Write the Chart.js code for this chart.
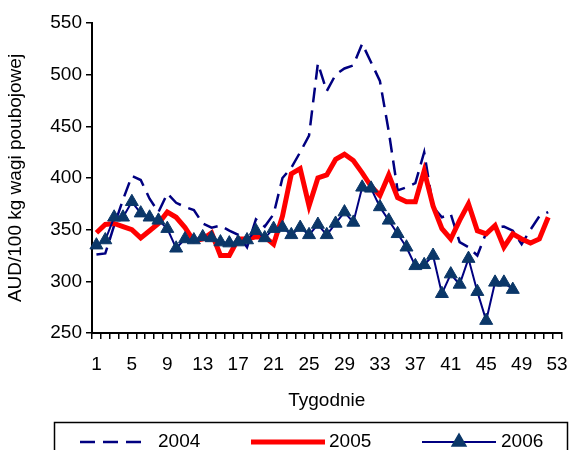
<!DOCTYPE html>
<html>
<head>
<meta charset="utf-8">
<script src="https://cdn.jsdelivr.net/npm/chart.js@4"></script>
<style>
  body { margin: 0; background: #fff; }
</style>
</head>
<body>
<canvas id="myChart" width="570" height="450"></canvas>
<script>
const weeks = ["1", "2", "3", "4", "5", "6", "7", "8", "9", "10", "11", "12", "13", "14", "15", "16", "17", "18",
  "19", "20", "21", "22", "23", "24", "25", "26", "27", "28", "29", "30", "31", "32", "33", "34", "35", "36",
  "37", "38", "39", "40", "41", "42", "43", "44", "45", "46", "47", "48", "49", "50", "51", "52", "53"];
const shownWeeks = ["1", "5", "9", "13", "17", "21", "25", "29", "33", "37", "41", "45", "49", "53"];

const years = ["2004", "2005", "2006"];

const prices2004 = [326, 327, 354, 379, 402, 398, 380, 367, 385, 376, 372, 369, 356, 352, 354, 349, 345, 333,
  360, 353, 365, 400, 410, 425, 441, 511, 484, 500, 506, 509, 530, 512, 494, 445, 388, 391, 395, 425, 372,
  362, 365, 338, 333, 325, 347, 352, 353, 349, 336, 350, 363, 367];
const prices2005 = [347, 355, 356, 353, 350, 342, 349, 356, 367, 362, 352, 339, 341, 347, 325, 325, 341, 341,
  343, 343, 336, 363, 404, 409, 373, 400, 403, 418, 423, 417, 405, 392, 383, 403, 381, 377, 377, 407, 373,
  351, 341, 359, 375, 349, 346, 354, 333, 346, 341, 337, 341, 362];
const prices2006 = [335, 340, 362, 362, 377, 366, 362, 359, 351, 332, 341, 340, 343, 342, 338, 337, 338, 340,
  349, 342, 351, 352, 345, 352, 345, 355, 345, 356, 367, 357, 391, 390, 372, 359, 346, 333, 315, 316, 325,
  288, 307, 297, 322, 290, 262, 299, 299, 292];

const yTicks = { min: 250, max: 550, step: 50 };

const font = { family: "'Liberation Sans', Arial, sans-serif", size: 19 };

// legend frame under the axis title, line sample + year for each series
const legendBox = {
  id: "legendBox",
  afterDraw(chart) {
    const ctx = chart.ctx;
    const slots = [[80, 149, 158], [251, 325, 329], [422, 496, 501]];
    const y = 442;
    ctx.save();
    ctx.strokeStyle = "#000";
    ctx.lineWidth = 1.5;
    ctx.strokeRect(54.5, 422.5, 513, 40);
    chart.data.datasets.forEach((ds, i) => {
      const [x0, x1, tx] = slots[i];
      ctx.beginPath();
      ctx.setLineDash(ds.borderDash || []);
      ctx.lineWidth = ds.borderWidth;
      ctx.strokeStyle = ds.borderColor;
      ctx.moveTo(x0, y);
      ctx.lineTo(x1, y);
      ctx.stroke();
      ctx.setLineDash([]);
      if (ds.pointRadius > 0) {
        ctx.fillStyle = ds.pointBackgroundColor;
        ctx.strokeStyle = ds.pointBorderColor;
        Chart.helpers.drawPoint(ctx, { pointStyle: ds.pointStyle, radius: ds.pointRadius, rotation: 0, borderWidth: 1 }, (x0 + x1) / 2, y);
      }
      ctx.fillStyle = "#000";
      ctx.font = font.size + "px " + font.family;
      ctx.textBaseline = "middle";
      ctx.textAlign = "left";
      ctx.fillText(ds.label, tx, y);
    });
    ctx.restore();
  }
};

new Chart("myChart", {
  type: "line",
  data: {
    labels: weeks,
    datasets: [
      {
        label: years[0],
        data: prices2004,
        borderColor: "#000080",
        borderWidth: 2.5,
        borderDash: [15, 8],
        pointRadius: 0,
        tension: 0,
        order: 3,
      },
      {
        label: years[1],
        data: prices2005,
        borderColor: "#ff0000",
        borderWidth: 5,
        pointRadius: 0,
        tension: 0,
        order: 2,
      },
      {
        label: years[2],
        data: prices2006,
        borderColor: "#000080",
        borderWidth: 2,
        pointStyle: "triangle",
        pointRadius: 7.5,
        pointBackgroundColor: "#0b3768",
        pointBorderColor: "#0b3768",
        pointBorderWidth: 1,
        tension: 0,
        order: 1,
      },
    ],
  },
  options: {
    responsive: false,
    animation: false,
    events: [],
    layout: { padding: { left: 0, right: 7, top: 23, bottom: 36 } },
    plugins: {
      legend: { display: false },
      tooltip: { enabled: false },
    },
    scales: {
      x: {
        offset: true,
        grid: { offset: true, drawOnChartArea: false, tickLength: 6, color: "#000", lineWidth: 1.5 },
        border: { color: "#000", width: 2 },
        ticks: {
          autoSkip: false,
          maxRotation: 0,
          color: "#000",
          font: font,
          padding: 14,
          callback: function (value, index) {
            return shownWeeks.includes(weeks[index]) ? weeks[index] : "";
          },
        },
        title: { display: true, text: "Tygodnie", color: "#000", font: font, padding: { top: 4, bottom: 2 } },
        afterFit: function (scale) {
          scale.height = 81;
          // keep the plot running out to the right edge
          scale.paddingLeft = 0;
          scale.paddingRight = 0;
        },
      },
      y: {
        min: yTicks.min,
        max: yTicks.max,
        grid: { drawOnChartArea: false, tickLength: 6, color: "#000", lineWidth: 1.5 },
        border: { color: "#000", width: 2 },
        ticks: { stepSize: yTicks.step, color: "#000", font: font, padding: 4 },
        title: { display: true, text: "AUD/100 kg wagi poubojowej", color: "#000", font: font, padding: { top: 4, bottom: 4 } },
        afterFit: function (scale) {
          scale.width = 92;
        },
      },
    },
  },
  plugins: [legendBox],
});
</script>
</body>
</html>
